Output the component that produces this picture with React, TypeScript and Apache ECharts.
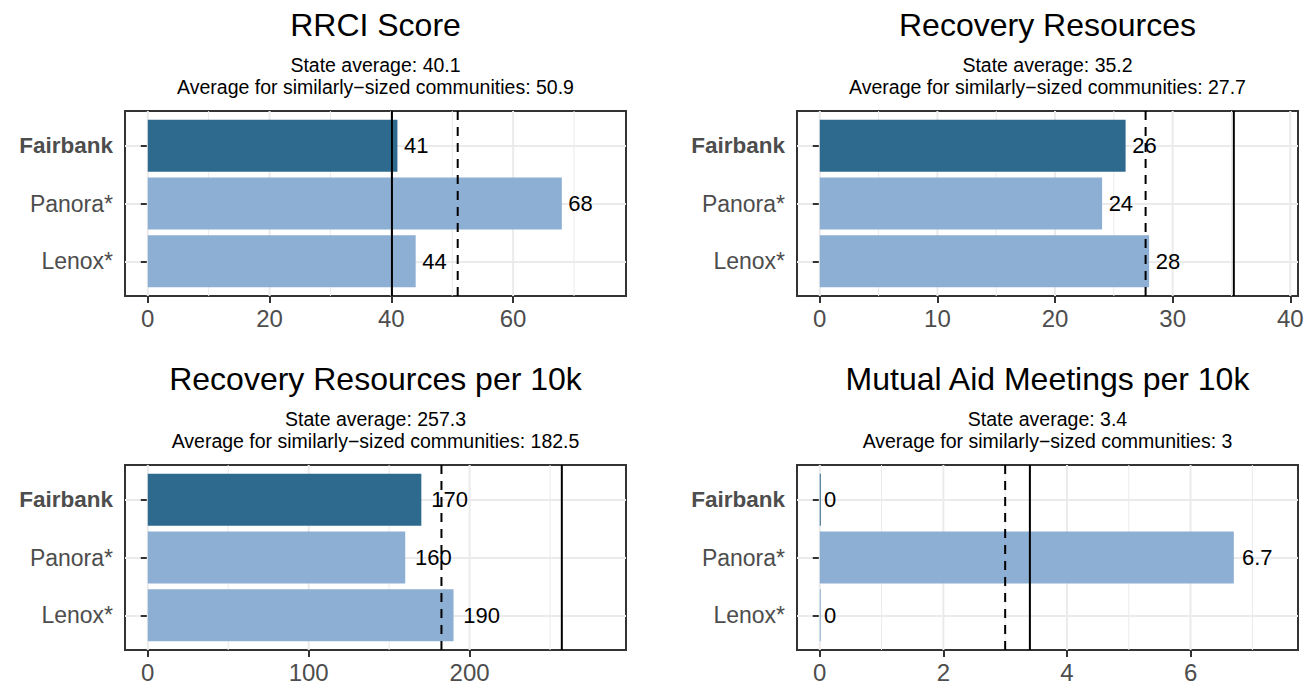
import React, { useEffect, useRef } from 'react';
import * as echarts from 'echarts';

// ---- data ----
const categories = ['Fairbank', 'Panora*', 'Lenox*'];
const panelTitles = ['RRCI Score', 'Recovery Resources', 'Recovery Resources per 10k', 'Mutual Aid Meetings per 10k'];
const rrciScore = [41, 68, 44];
const recoveryResources = [26, 24, 28];
const recoveryResourcesPer10k = [170, 160, 190];
const mutualAidPer10k = [0, 6.7, 0];
const stateAverage = [40.1, 35.2, 257.3, 3.4];
const similarAverage = [50.9, 27.7, 182.5, 3];
const majorTicks = [[0, 20, 40, 60], [0, 10, 20, 30, 40], [0, 100, 200], [0, 2, 4, 6]];
const minorTicks = [[10, 30, 50, 70], [5, 15, 25, 35], [50, 150, 250], [1, 3, 5, 7]];
const panelValues = [rrciScore, recoveryResources, recoveryResourcesPer10k, mutualAidPer10k];

// ---- layout / style ----
const FONT = "'Liberation Sans', Arial, Helvetica, sans-serif";
const BOXES = [
  { left: 125, top: 111 },
  { left: 797, top: 111 },
  { left: 125, top: 465 },
  { left: 797, top: 465 },
];
const W = 501;
const H = 185;
const DARK = '#2E6A8E';
const LIGHT = '#8DAFD3';
const GRID_COL = '#EBEBEB';
const AXIS_COL = '#333333';
const TEXT_GREY = '#4D4D4D';
const TICK_FONT = 23;
const XTICK_FONT = 24;
const VALUE_FONT = 22;

function estWidth(s: string) {
  let w = 0;
  for (const ch of s) w += ch === '.' ? 5.8 : 11.7;
  return w;
}

function buildOption() {
  const grids: any[] = [];
  const xAxes: any[] = [];
  const yAxes: any[] = [];
  const series: any[] = [];
  const graphics: any[] = [];

  panelValues.forEach((values, i) => {
    const { left: L, top: T } = BOXES[i];
    const lim = 1.1 * Math.max(...values, stateAverage[i], similarAverage[i]);
    const xmin = -0.05 * lim;
    const xmax = 1.05 * lim;
    const unit = H / 3.2;
    const gA = grids.length;
    const gB = gA + 1;

    grids.push({
      left: L, top: T, width: W, height: H, show: true,
      borderColor: AXIS_COL, borderWidth: 2, backgroundColor: 'transparent',
    });
    grids.push({ left: L, top: T + 0.6 * unit, width: W, height: 2 * unit });

    xAxes.push({
      type: 'value', gridIndex: gA, min: xmin, max: xmax,
      axisLine: { show: false },
      splitLine: { show: false },
      axisTick: { show: true, length: 7, lineStyle: { color: AXIS_COL, width: 2 }, customValues: majorTicks[i] },
      axisLabel: {
        customValues: majorTicks[i], color: TEXT_GREY, fontSize: XTICK_FONT, fontFamily: FONT, margin: 10,
        formatter: (v: number) => String(v),
      },
    });
    xAxes.push({ type: 'value', gridIndex: gB, min: xmin, max: xmax, show: false });

    yAxes.push({ type: 'value', gridIndex: gA, min: 0, max: 1, show: false });
    yAxes.push({
      type: 'category', gridIndex: gB, data: categories, inverse: true, boundaryGap: false,
      axisLine: { show: false },
      axisTick: { show: true, length: 7, lineStyle: { color: AXIS_COL, width: 2 } },
      splitLine: { show: true, lineStyle: { color: GRID_COL, width: 2 } },
      axisLabel: {
        margin: 12,
        formatter: (v: string) => (v === 'Fairbank' ? `{b|${v}}` : `{n|${v}}`),
        rich: {
          b: { fontWeight: 'bold', fontSize: 22.5, color: TEXT_GREY, fontFamily: FONT },
          n: { fontSize: TICK_FONT, color: TEXT_GREY, fontFamily: FONT },
        },
      },
    });

    // vertical grid lines (major + minor)
    series.push({
      type: 'custom', xAxisIndex: gA, yAxisIndex: gA, z: 1, silent: true,
      data: [...majorTicks[i].map((v) => [v, 1]), ...minorTicks[i].map((v) => [v, 0])],
      renderItem: (_p: any, api: any) => {
        const v = api.value(0);
        const major = api.value(1) === 1;
        const a = api.coord([v, 0]);
        const b = api.coord([v, 1]);
        return {
          type: 'line',
          shape: { x1: a[0], y1: a[1], x2: b[0], y2: b[1] },
          style: { stroke: GRID_COL, lineWidth: major ? 2 : 1 },
        };
      },
    });

    // bars
    series.push({
      type: 'bar', xAxisIndex: gB, yAxisIndex: gB, z: 2, clip: false,
      barWidth: 0.9 * unit, barMinHeight: 1,
      data: values.map((v, k) => ({
        value: v,
        itemStyle: { color: k === 0 ? DARK : LIGHT },
        label: { distance: 0.28 * estWidth(String(v)) },
      })),
      label: { show: true, position: 'right', color: '#000', fontSize: VALUE_FONT, fontFamily: FONT },
    });

    // average lines: solid = state, dashed = similarly-sized
    series.push({
      type: 'custom', xAxisIndex: gA, yAxisIndex: gA, z: 10, silent: true,
      data: [[stateAverage[i], 0], [similarAverage[i], 1]],
      renderItem: (_p: any, api: any) => {
        const v = api.value(0);
        const dashed = api.value(1) === 1;
        const a = api.coord([v, 0]);
        const b = api.coord([v, 1]);
        return {
          type: 'line',
          shape: { x1: a[0], y1: a[1], x2: b[0], y2: b[1] },
          style: { stroke: '#000', lineWidth: 2, lineDash: dashed ? [9, 7] : null },
        };
      },
    });

    const cx = L + W / 2;
    graphics.push({
      type: 'text', x: cx, y: T - 86,
      style: { text: panelTitles[i], fill: '#000', font: `32px ${FONT}`, align: 'center', verticalAlign: 'middle' },
    });
    graphics.push({
      type: 'text', x: cx, y: T - 46.5,
      style: { text: `State average: ${stateAverage[i]}`, fill: '#000', font: `19.5px ${FONT}`, align: 'center', verticalAlign: 'middle' },
    });
    graphics.push({
      type: 'text', x: cx, y: T - 24.5,
      style: { text: `Average for similarly\u2212sized communities: ${similarAverage[i]}`, fill: '#000', font: `19.5px ${FONT}`, align: 'center', verticalAlign: 'middle' },
    });
  });

  return {
    animation: false,
    backgroundColor: '#fff',
    textStyle: { fontFamily: FONT },
    grid: grids,
    xAxis: xAxes,
    yAxis: yAxes,
    series,
    graphic: graphics,
  };
}

export default function App() {
  const ref = useRef<HTMLDivElement>(null);
  useEffect(() => {
    const chart = echarts.init(ref.current!, null, { renderer: 'svg' });
    chart.setOption(buildOption() as any);
    return () => chart.dispose();
  }, []);
  return (
    <div
      ref={ref}
      style={{ position: 'absolute', left: 0, top: 0, width: 1312, height: 684, background: '#fff' }}
    />
  );
}
